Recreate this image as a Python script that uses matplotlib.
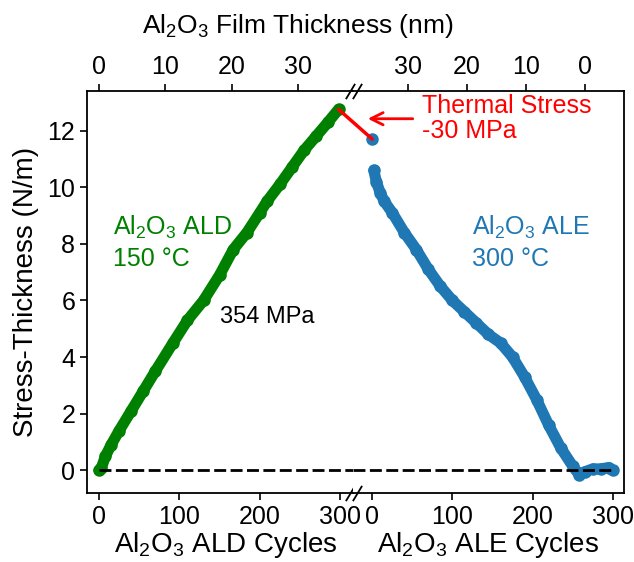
import matplotlib
matplotlib.use('Agg')
import matplotlib.pyplot as plt
from matplotlib.patches import ConnectionPatch

plt.rcParams['font.family'] = ['Liberation Sans', 'DejaVu Sans']
plt.rcParams['mathtext.fontset'] = 'custom'
plt.rcParams['mathtext.rm'] = 'Liberation Sans'
plt.rcParams['mathtext.it'] = 'Liberation Sans'
plt.rcParams['axes.linewidth'] = 1.3

# ALD growth (green), cycles vs stress-thickness (N/m)
ald_cycles = [0, 3, 8, 15, 25, 40, 55, 70, 92, 110, 130, 150, 167, 184, 200,
              209, 225, 240, 255, 270, 285, 298]
ald_stress = [0.0, 0.1, 0.5, 0.9, 1.4, 2.1, 2.8, 3.5, 4.5, 5.3, 6.0, 6.9, 7.8,
              8.4, 9.1, 9.5, 10.1, 10.7, 11.3, 11.8, 12.3, 12.75]

# ALE etching (blue)
ale_start = [0]
ale_start_stress = [11.7]
ale_cycles = [2, 5, 10, 15, 25, 40, 55, 70, 85, 100, 115, 130, 145, 160, 175,
              190, 205, 220, 235, 250, 258, 265, 275, 285, 295, 300]
ale_stress = [10.6, 10.2, 9.8, 9.5, 9.1, 8.4, 7.8, 7.1, 6.5, 6.0, 5.6, 5.2, 4.8,
              4.5, 4.0, 3.3, 2.5, 1.6, 0.8, 0.15, -0.15, -0.05, 0.05, 0.05, 0.1, 0.0]

# film thickness axis (nm)
thick_ticks = [0, 10, 20, 30]
gpc_ald = 0.121      # nm per ALD cycle
epc_ale = 0.136      # nm per ALE cycle
ale_zero_cycle = 265 # ALE cycle where thickness reaches 0

cyc_ticks = [0, 100, 200, 300]
y_ticks = [0, 2, 4, 6, 8, 10, 12]

green = '#008000'
blue = '#1f77b4'

fig = plt.figure(figsize=(6.34, 5.62), dpi=100)
ax1 = fig.add_axes([0.1372, 0.1228, 0.4196, 0.7153])
ax2 = fig.add_axes([0.5568, 0.1228, 0.4274, 0.7153])

ax1.set_xlim(-15, 316)
ax2.set_xlim(-24, 314)
for ax in (ax1, ax2):
    ax.set_ylim(-0.8, 13.4)
    ax.set_xticks(cyc_ticks)
    ax.tick_params(labelsize=18, length=5, width=1.2, direction='out')

ax1.set_yticks(y_ticks)
ax2.set_yticks([])
ax1.spines['right'].set_visible(False)
ax2.spines['left'].set_visible(False)

ax1.plot(ald_cycles, ald_stress, '-o', color=green, lw=8, ms=8,
         solid_capstyle='round', solid_joinstyle='round', zorder=3)
ax2.plot(ale_cycles, ale_stress, '-o', color=blue, lw=8, ms=8,
         solid_capstyle='round', solid_joinstyle='round', zorder=3)
ax2.plot(ale_start, ale_start_stress, 'o', color=blue, ms=8, zorder=3)

# zero line
dash = (0, (4.3, 1.6))
ax1.hlines(0, ald_cycles[0], ax1.get_xlim()[1], colors='black', lw=2, linestyles=[dash], zorder=4)
ax2.hlines(0, ax2.get_xlim()[0], ale_cycles[-1], colors='black', lw=2, linestyles=[dash], zorder=4)

# thermal stress jump
con = ConnectionPatch(xyA=(ald_cycles[-1], ald_stress[-1]), coordsA=ax1.transData,
                      xyB=(ale_start[0], ale_start_stress[0]), coordsB=ax2.transData,
                      color='red', lw=2.5, zorder=5)
fig.add_artist(con)
ax2.annotate('', xy=(-9, 12.42), xytext=(54, 12.42),
             arrowprops=dict(arrowstyle='->', color='red', lw=2, mutation_scale=22))

# top thickness axes
t1 = ax1.twiny()
t1.set_xlim(ax1.get_xlim())
t1.set_xticks([t / gpc_ald for t in thick_ticks])
t1.set_xticklabels([str(t) for t in thick_ticks])
t2 = ax2.twiny()
t2.set_xlim(ax2.get_xlim())
t2.set_xticks([ale_zero_cycle - t / epc_ale for t in thick_ticks])
t2.set_xticklabels([str(t) for t in thick_ticks])
for t in (t1, t2):
    t.tick_params(labelsize=18, length=5, width=1.2)
    for s in t.spines.values():
        s.set_visible(False)

# break marks
for ax, xpos in ((ax1, 1 - 0.013), (ax2, 0.013)):
    for ypos in (0, 1):
        ax.plot([xpos], [ypos], transform=ax.transAxes, marker=[(-0.6, -1), (0.6, 1)],
                ms=11, mew=1.3, color='black', clip_on=False, zorder=6)

# text
ax1.text(17, 9.05, 'Al$_2$O$_3$ ALD\n150 °C', color=green, fontsize=18, va='top', linespacing=1.3)
ax1.text(150, 5.4, '354 MPa', color='black', fontsize=17, va='center')
ax2.text(125, 9.05, 'Al$_2$O$_3$ ALE\n300 °C', color=blue, fontsize=18, va='top', linespacing=1.3)
ax2.text(62, 13.3, 'Thermal Stress\n-30 MPa', color='red', fontsize=18, va='top', linespacing=1.05)

ax1.set_ylabel('Stress-Thickness (N/m)', fontsize=20, labelpad=6)
fig.text(226 / 634, 1 - 545 / 562, 'Al$_2$O$_3$ ALD Cycles', fontsize=20, ha='center', va='center')
fig.text(488 / 634, 1 - 545 / 562, 'Al$_2$O$_3$ ALE Cycles', fontsize=20, ha='center', va='center')
fig.text(298 / 634, 1 - 26 / 562, 'Al$_2$O$_3$ Film Thickness (nm)', fontsize=19, ha='center', va='center')

fig.savefig('out.png', dpi=100)
